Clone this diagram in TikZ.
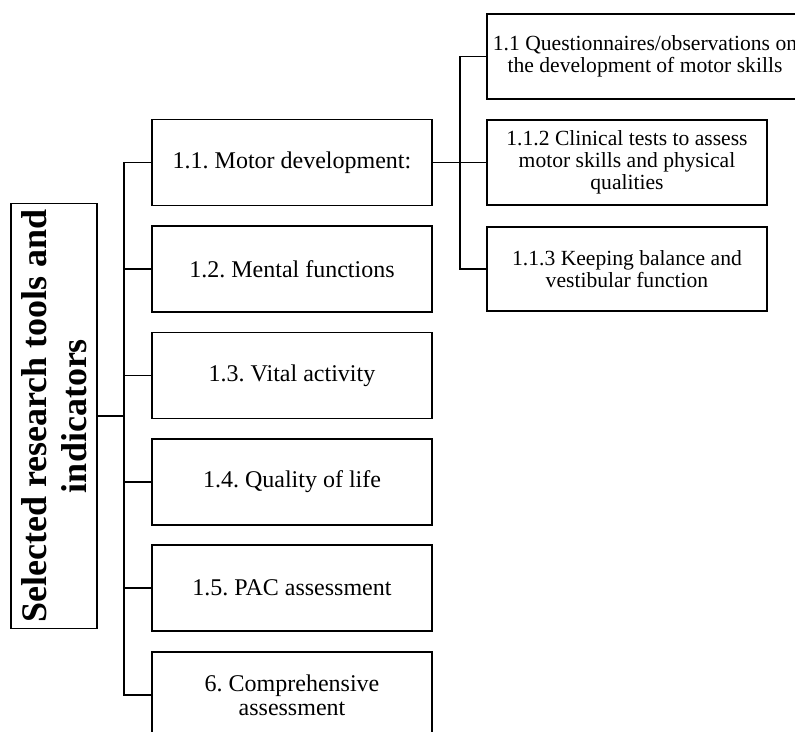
\documentclass[tikz,border=0pt]{standalone}
\usepackage{fontspec}
\setmainfont{Liberation Serif}
\frenchspacing
\begin{document}
\begin{tikzpicture}[x=1pt,y=-1pt,
  line width=1.9pt,
  mainbox/.style={draw, minimum width=280pt, minimum height=86pt, inner sep=2pt, align=center,
    font=\fontsize{24}{24.2}\selectfont},
  subbox/.style={draw, minimum width=280pt, minimum height=85pt, inner sep=2pt, align=center,
    font=\fontsize{21.6}{21.8}\selectfont},
  rootbox/.style={draw, rotate=90, minimum width=425pt, minimum height=86pt, inner sep=1pt, align=center,
    font=\fontsize{36}{40}\selectfont\bfseries}]
\useasboundingbox (0,0) rectangle (795,731);
\clip (0,0) rectangle (795,731);
\node[rootbox] (root) at (54,416) {Selected research tools and\\indicators};
\node[mainbox] (m1) at (292,162.5) {1.1. Motor development:};
\node[mainbox] (m2) at (292,269) {1.2. Mental functions};
\node[mainbox] (m3) at (292,375.5) {1.3. Vital activity};
\node[mainbox] (m4) at (292,482) {1.4. Quality of life};
\node[mainbox] (m5) at (292,588) {1.5. PAC assessment};
\node[mainbox] (m6) at (292,695) {6. Comprehensive\\assessment};
\node[subbox, minimum width=316pt, minimum height=85pt] (s1) at (645,56.5) {1.1 Questionnaires/observations on\\the development of motor skills};
\node[subbox] (s2) at (627,162.5) {1.1.2 Clinical tests to assess\\motor skills and physical\\qualities};
\node[subbox, minimum height=84pt] (s3) at (627,269) {1.1.3 Keeping balance and\\vestibular function};
\coordinate (bus) at (124,416);
\coordinate (sbus) at (460,162.5);
\draw (root.south) -- (root.south -| bus);
\draw (m1.west) -- (m1.west -| bus) |- (m6.west);
\draw (m2.west) -- (m2.west -| bus);
\draw (m3.west) -- (m3.west -| bus);
\draw (m4.west) -- (m4.west -| bus);
\draw (m5.west) -- (m5.west -| bus);
\draw (m1.east) -- (s2.west);
\draw (s1.west) -| (sbus) |- (s3.west);
\end{tikzpicture}
\end{document}
